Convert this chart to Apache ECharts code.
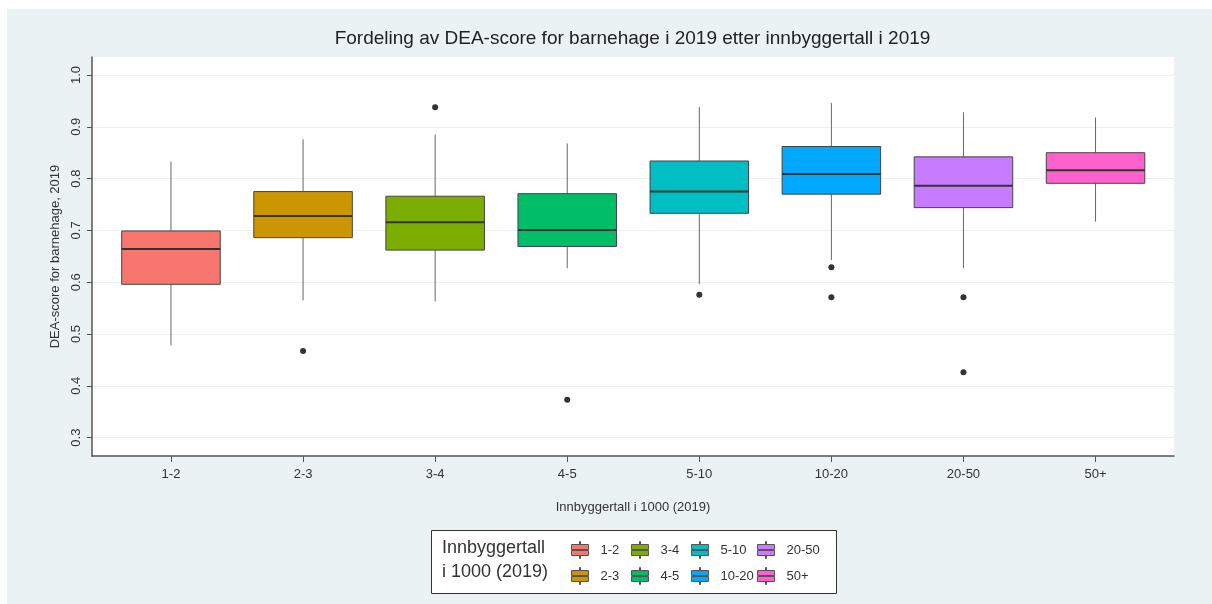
<!DOCTYPE html>
<html><head><meta charset="utf-8">
<script src="https://cdn.jsdelivr.net/npm/echarts@6/dist/echarts.min.js"></script>
<style>
html,body{margin:0;padding:0;background:#fff;}
#c{position:absolute;left:7px;top:9px;width:1205px;height:595px;}
</style></head>
<body><div id="c"></div>
<script>
// ---- data ----
const categories = ['1-2','2-3','3-4','4-5','5-10','10-20','20-50','50+'];
const whiskerLow  = [0.478, 0.565, 0.563, 0.627, 0.596, 0.643, 0.627, 0.717];
const q1          = [0.596, 0.686, 0.662, 0.669, 0.733, 0.770, 0.744, 0.791];
const median      = [0.664, 0.728, 0.716, 0.701, 0.775, 0.809, 0.786, 0.816];
const q3          = [0.699, 0.775, 0.766, 0.771, 0.834, 0.862, 0.842, 0.850];
const whiskerHigh = [0.833, 0.876, 0.885, 0.868, 0.938, 0.946, 0.928, 0.918];
const outlierCat  = ['2-3','3-4','4-5','5-10','10-20','10-20','20-50','20-50'];
const outlierVal  = [0.467, 0.938, 0.373, 0.576, 0.629, 0.571, 0.571, 0.426];
const yTicks = [0.3,0.4,0.5,0.6,0.7,0.8,0.9,1.0];
const colors = ['#F8766D','#CD9600','#7CAE00','#00BE67','#00BFC4','#00A9FF','#C77CFF','#FF61CC'];

const FONT = '"Liberation Sans", Arial, sans-serif';
const boxData = categories.map((c,i)=>[i, whiskerLow[i], q1[i], median[i], q3[i], whiskerHigh[i]]);
const outData = outlierCat.map((c,i)=>[categories.indexOf(c), outlierVal[i]]);
const catIdx = categories.map((c,i)=>i);

const legendIcon = 'path://M8,0L9,0L9,3L8,3Z M0,3L17,3L17,8L0,8Z M0,9L17,9L17,14L0,14Z M8,14L9,14L9,17L8,17Z';

const chart = echarts.init(document.getElementById('c'), null, {renderer:'canvas'});

const legendCols = [[0,1],[2,3],[4,5],[6,7]];
const legendLeft = [564, 624, 684, 750];
const legends = legendCols.map((col,k)=>({
  orient:'vertical', left: legendLeft[k], top: 532, padding:0,
  itemWidth:17, itemHeight:17, itemGap:8,
  icon: legendIcon,
  selectedMode:false,
  itemStyle:{borderColor:'#555', borderWidth:1, opacity:1},
  textStyle:{fontFamily:FONT, fontSize:13, color:'#333', padding:[0,0,0,7]},
  data: col.map(i=>({name:categories[i], itemStyle:{color:colors[i], opacity:1, borderColor:'#555', borderWidth:1}}))
}));

const dummySeries = categories.map((c,i)=>({
  type:'scatter', name:c, data:[], itemStyle:{color:colors[i], borderColor:'#555', borderWidth:1, opacity:1}
}));

chart.setOption({
  backgroundColor:'#eaf2f3',
  animation:false,
  title:[{
    text:'Fordeling av DEA-score for barnehage i 2019 etter innbyggertall i 2019',
    left:625.5, top:20, textAlign:'center', padding:0,
    textStyle:{fontFamily:FONT, fontSize:19, fontWeight:'normal', color:'#222'}
  },{
    text:'Innbyggertall\ni 1000 (2019)',
    left:435, top:527, padding:0,
    textStyle:{fontFamily:FONT, fontSize:18, fontWeight:'normal', color:'#333', lineHeight:24}
  }],
  graphic:[{
    type:'rect', left:424, top:521, shape:{width:405, height:63}, z:-1,
    style:{fill:'#fff', stroke:'#333', lineWidth:1}
  }],
  legend: legends,
  grid:{left:85, right:38, top:48, bottom:148, backgroundColor:'#fff', show:true, borderWidth:0},
  xAxis:{
    type:'value', min:-0.598, max:7.594,
    name:'Innbyggertall i 1000 (2019)', nameLocation:'middle', nameGap:45,
    nameTextStyle:{fontFamily:FONT, fontSize:13, color:'#333'},
    axisLine:{show:true, onZero:false, lineStyle:{color:'#555', width:1.5}},
    axisTick:{show:true, length:6, customValues:catIdx, lineStyle:{color:'#555'}},
    axisLabel:{customValues:catIdx, formatter:v=>categories[Math.round(v)], fontFamily:FONT, fontSize:13, color:'#333', margin:12},
    splitLine:{show:false}
  },
  yAxis:{
    type:'value', min:0.2645, max:1.0348, minInterval:0.1, maxInterval:0.1, splitNumber:8,
    name:'DEA-score for barnehage, 2019', nameLocation:'middle', nameGap:19,
    nameTextStyle:{fontFamily:FONT, fontSize:13, color:'#333'},
    axisLine:{show:true, onZero:false, lineStyle:{color:'#555', width:1.5}},
    axisTick:{show:true, length:5, customValues:yTicks, lineStyle:{color:'#555'}},
    axisLabel:{customValues:yTicks, rotate:90, formatter:v=>v.toFixed(1), fontFamily:FONT, fontSize:13, color:'#333', margin:9},
    splitLine:{show:true, lineStyle:{color:'#e8f0f1', width:1}}
  },
  series:[{
    type:'custom', name:'box', data:boxData,
    encode:{x:0, y:[1,2,3,4,5]},
    renderItem:(params, api)=>{
      const x = api.value(0);
      const pLo = api.coord([x, api.value(1)]);
      const pQ1 = api.coord([x, api.value(2)]);
      const pMed = api.coord([x, api.value(3)]);
      const pQ3 = api.coord([x, api.value(4)]);
      const pHi = api.coord([x, api.value(5)]);
      const hw = api.size([1,0])[0]*0.373;
      const cx = pMed[0];
      return {type:'group', children:[
        {type:'line', shape:{x1:cx,y1:pHi[1],x2:cx,y2:pQ3[1]}, style:{stroke:'#666', lineWidth:1}},
        {type:'line', shape:{x1:cx,y1:pQ1[1],x2:cx,y2:pLo[1]}, style:{stroke:'#666', lineWidth:1}},
        {type:'rect', shape:{x:cx-hw, y:pQ3[1], width:2*hw, height:pQ1[1]-pQ3[1]}, style:{fill:colors[params.dataIndex], stroke:'#444', lineWidth:1}},
        {type:'line', shape:{x1:cx-hw,y1:pMed[1],x2:cx+hw,y2:pMed[1]}, style:{stroke:'#333', lineWidth:2}}
      ]};
    }
  },{
    type:'scatter', name:'outliers', data:outData, symbolSize:6,
    itemStyle:{color:'#333', opacity:1}
  }].concat(dummySeries)
});
</script></body></html>
